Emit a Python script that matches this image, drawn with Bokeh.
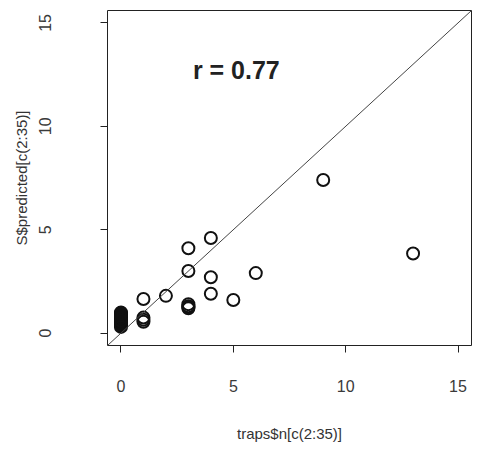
from bokeh.plotting import figure
from bokeh.models import FixedTicker, Range1d, Label, Slope
from bokeh.embed import file_html
from bokeh.resources import INLINE

# observed trap counts (x) vs predicted (y)
observed = [0, 0, 0, 0, 0, 0, 0, 0, 0, 0, 0, 0, 0, 0, 0, 0,
            1, 1, 1, 1,
            2, 3, 3, 3, 3, 3, 3,
            4, 4, 4, 5, 6, 9, 13]
predicted = [1.0, 0.95, 0.9, 0.85, 0.8, 0.75, 0.7, 0.65, 0.6, 0.55, 0.5, 0.45, 0.4, 0.35, 0.3, 0.6,
             1.65, 0.75, 0.65, 0.55,
             1.8, 4.1, 3.0, 1.4, 1.3, 1.2, 1.25,
             4.6, 2.7, 1.9, 1.6, 2.9, 7.4, 3.85]
ticks = [0, 5, 10, 15]
r_label = "r = 0.77"

FONT = "Liberation Sans"

p = figure(width=473, height=444, output_backend="svg", toolbar_location=None,
           x_range=Range1d(-0.6, 15.6), y_range=Range1d(-0.6, 15.6),
           min_border_left=107, min_border_right=2, min_border_top=10, min_border_bottom=91)

p.background_fill_color = "white"
p.border_fill_color = "white"
p.outline_line_color = "#222222"
p.outline_line_width = 1
p.xgrid.visible = False
p.ygrid.visible = False

for ax in (p.xaxis[0], p.yaxis[0]):
    ax.ticker = FixedTicker(ticks=ticks)
    ax.minor_tick_line_color = None
    ax.major_tick_in = 0
    ax.major_tick_out = 7
    ax.major_tick_line_color = "#222222"
    ax.axis_line_color = None
    ax.major_label_text_font = FONT
    ax.major_label_text_font_size = "16px"
    ax.major_label_text_color = "#3a3a3a"
    ax.axis_label_text_font = FONT
    ax.axis_label_text_font_size = "15px"
    ax.axis_label_text_font_style = "normal"
    ax.axis_label_text_color = "#333333"

p.xaxis.axis_label = "traps$n[c(2:35)]"
p.yaxis.axis_label = "S$predicted[c(2:35)]"
p.xaxis.major_label_standoff = 27
p.xaxis.axis_label_standoff = 30
p.yaxis.major_label_orientation = "vertical"
p.yaxis.major_label_standoff = 49
p.yaxis.axis_label_standoff = 7

p.add_layout(Slope(gradient=1, y_intercept=0, line_color="#444444", line_width=1))

p.scatter(observed, predicted, marker="circle", size=12, fill_color=None,
          line_color="#111111", line_width=2)

p.add_layout(Label(x=3.2, y=12.7, text=r_label, text_font=FONT, text_font_size="25px",
                   text_font_style="bold", text_color="#222222", text_baseline="middle"))

open("out.html", "w").write(file_html(p, INLINE))
